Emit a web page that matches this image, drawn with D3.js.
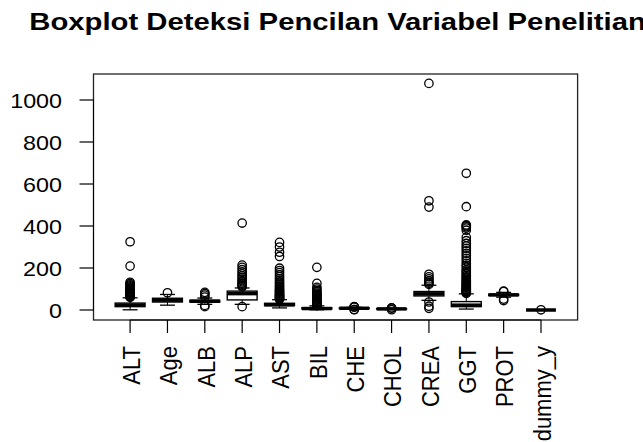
<!DOCTYPE html>
<html>
<head>
<meta charset="utf-8">
<script src="https://cdn.jsdelivr.net/npm/d3@7"></script>
<style>
  body { margin: 0; background: #fff; }
  svg text { font-family: "Liberation Sans", Arial, sans-serif; fill: #000; }
</style>
</head>
<body>
<svg id="chart" width="643" height="442"></svg>
<script>
// boxplot stats
var categories = ["ALT", "Age", "ALB", "ALP", "AST", "BIL", "CHE", "CHOL", "CREA", "GGT", "PROT", "dummy_y"];
var q1     = [16, 38, 38, 48, 21, 5, 7.0, 4.6, 67, 16, 69, 0];
var median = [23, 47, 42, 78, 25, 7, 8.3, 5.3, 77, 23, 72, 0];
var q3     = [33, 56, 46, 90, 32, 11, 9.3, 6.1, 88, 40, 75, 0];
var whiskerLow  = [1, 23, 27, 27, 10, 1, 3.6, 2.4, 46, 4.5, 61, 0];
var whiskerHigh = [58, 74, 57, 105, 49, 20, 12.8, 8.2, 118, 77, 84, 0];

var outlierALT = [60, 63, 66, 69, 72, 75, 78, 81, 84, 87, 90, 94, 98, 102, 106, 110, 115, 120, 126, 132, 209, 325];
var outlierAge = [82];
var outlierALB = [16, 22, 62, 71, 78, 84];
var outlierALP = [16, 110, 114, 118, 123, 128, 134, 140, 147, 155, 163, 172, 182, 192, 203, 214, 414];
var outlierAST = [51, 54, 57, 60, 63, 66, 69, 72, 76, 80, 84, 88, 92, 97, 102, 108, 114, 120, 127, 134, 142, 150, 159, 168, 178, 188, 199, 255, 275, 300, 322];
var outlierBIL = [21, 23, 25, 27, 30, 33, 36, 39, 42, 46, 50, 54, 58, 63, 68, 73, 79, 85, 92, 100, 108, 127, 203];
var outlierCHE = [1.4, 2.5, 13.5, 14.5, 16.4];
var outlierCHOL = [1.4, 9, 9.7];
var outlierCREA = [8, 18, 38, 122, 127, 133, 140, 148, 158, 170, 490, 520, 1079];
var outlierGGT = [79, 82, 85, 88, 91, 94, 97, 100, 104, 108, 112, 116, 120, 125, 130, 135, 140, 146, 152, 158, 164, 171, 178, 185, 192, 203, 212, 222, 234, 246, 258, 270, 282, 294, 305, 317, 330, 346, 380, 390, 396, 401, 405, 492, 651];
var outlierPROT = [45, 52, 88, 90];
var outlierDummy = [1];
var outliers = [outlierALT, outlierAge, outlierALB, outlierALP, outlierAST, outlierBIL,
    outlierCHE, outlierCHOL, outlierCREA, outlierGGT, outlierPROT, outlierDummy];

var yTicks = [0, 200, 400, 600, 800, 1000];
var yLimits = [-47.6, 1123.8];

var title = "Boxplot Deteksi Pencilan Variabel Penelitian";

// plot region (R style box)
var plotLeft = 93.5, plotRight = 577.6, plotTop = 74, plotBottom = 320;
var stretch = 1.11; // picture was widened a little, text follows it

var svg = d3.select("#chart");

var x = d3.scaleLinear()
    .domain([0.02, categories.length + 0.98])
    .range([plotLeft, plotRight]);

var y = d3.scaleLinear()
    .domain(yLimits)
    .range([plotBottom, plotTop]);

var unit = x(2) - x(1);
var boxW = unit * 0.8;
var stapleW = boxW * 0.5;

var rows = categories.map(function (c, i) {
    return {
        name: c, pos: i + 1, q1: q1[i], med: median[i], q3: q3[i],
        lo: whiskerLow[i], hi: whiskerHigh[i], out: outliers[i]
    };
});

var g = svg.append("g");

var box = g.selectAll(".box")
    .data(rows)
    .enter().append("g")
    .attr("class", "box")
    .attr("transform", function (d) { return "translate(" + x(d.pos) + ",0)"; });

// whiskers (dashed like R)
box.append("line")
    .attr("x1", 0).attr("x2", 0)
    .attr("y1", function (d) { return y(d.q3); })
    .attr("y2", function (d) { return y(d.hi); })
    .attr("stroke", "#000").attr("stroke-dasharray", "4,3");
box.append("line")
    .attr("x1", 0).attr("x2", 0)
    .attr("y1", function (d) { return y(d.q1); })
    .attr("y2", function (d) { return y(d.lo); })
    .attr("stroke", "#000").attr("stroke-dasharray", "4,3");

// staples
box.append("line")
    .attr("x1", -stapleW / 2).attr("x2", stapleW / 2)
    .attr("y1", function (d) { return y(d.hi); })
    .attr("y2", function (d) { return y(d.hi); })
    .attr("stroke", "#000").attr("stroke-width", 1.3);
box.append("line")
    .attr("x1", -stapleW / 2).attr("x2", stapleW / 2)
    .attr("y1", function (d) { return y(d.lo); })
    .attr("y2", function (d) { return y(d.lo); })
    .attr("stroke", "#000").attr("stroke-width", 1.3);

box.append("rect")
    .attr("x", -boxW / 2)
    .attr("width", boxW)
    .attr("y", function (d) { return y(d.q3); })
    .attr("height", function (d) { return y(d.q1) - y(d.q3); })
    .attr("fill", "#fff")
    .attr("stroke", "#000")
    .attr("stroke-width", 1.4);

box.append("line")
    .attr("x1", -boxW / 2).attr("x2", boxW / 2)
    .attr("y1", function (d) { return y(d.med); })
    .attr("y2", function (d) { return y(d.med); })
    .attr("stroke", "#000").attr("stroke-width", 3.5);

box.selectAll("circle")
    .data(function (d) { return d.out; })
    .enter().append("circle")
    .attr("cx", 0)
    .attr("cy", function (v) { return y(v); })
    .attr("r", 4.2)
    .attr("fill", "none")
    .attr("stroke", "#000")
    .attr("stroke-width", 1.3);

// frame
svg.append("rect")
    .attr("x", plotLeft).attr("y", plotTop)
    .attr("width", plotRight - plotLeft).attr("height", plotBottom - plotTop)
    .attr("fill", "none").attr("stroke", "#222").attr("stroke-width", 1.3);

// y axis
var yAxis = svg.append("g");
yAxis.append("line")
    .attr("x1", plotLeft).attr("x2", plotLeft)
    .attr("y1", y(yTicks[0])).attr("y2", y(yTicks[yTicks.length - 1]))
    .attr("stroke", "#000");
yAxis.selectAll(".tick")
    .data(yTicks)
    .enter().append("line")
    .attr("x1", plotLeft - 14).attr("x2", plotLeft)
    .attr("y1", function (d) { return y(d); })
    .attr("y2", function (d) { return y(d); })
    .attr("stroke", "#000").attr("stroke-width", 1.2);
yAxis.selectAll("text")
    .data(yTicks)
    .enter().append("text")
    .attr("transform", function (d) { return "translate(62," + y(d) + ") scale(" + stretch + ",1)"; })
    .attr("text-anchor", "end")
    .attr("dy", "0.36em")
    .style("font-size", "21px")
    .text(function (d) { return d; });

// x axis
var xAxis = svg.append("g");
xAxis.append("line")
    .attr("x1", x(1)).attr("x2", x(categories.length))
    .attr("y1", plotBottom).attr("y2", plotBottom)
    .attr("stroke", "#000");
xAxis.selectAll(".tick")
    .data(rows)
    .enter().append("line")
    .attr("x1", function (d) { return x(d.pos); })
    .attr("x2", function (d) { return x(d.pos); })
    .attr("y1", plotBottom).attr("y2", plotBottom + 13)
    .attr("stroke", "#000").attr("stroke-width", 1.2);
xAxis.selectAll("text")
    .data(rows)
    .enter().append("text")
    .attr("transform", function (d) {
        return "translate(" + (x(d.pos) + 1) + ",346) rotate(-90) scale(1," + stretch + ")";
    })
    .attr("text-anchor", "end")
    .attr("dy", "0.36em")
    .style("font-size", "22px")
    .text(function (d) { return d.name; });

svg.append("text")
    .attr("transform", "translate(" + ((plotLeft + plotRight) / 2 + 2) + ",30) scale(1.22,1)")
    .attr("text-anchor", "middle")
    .style("font-size", "24px")
    .style("font-weight", "bold")
    .text(title);
</script>
</body>
</html>
